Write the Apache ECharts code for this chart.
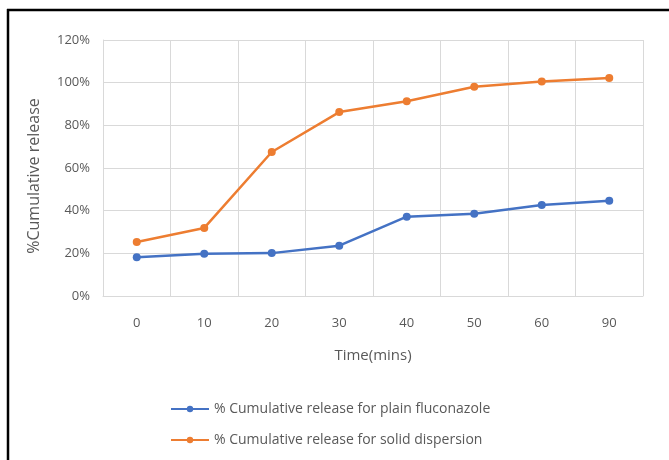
<!DOCTYPE html>
<html><head><meta charset="utf-8">
<script src="https://cdn.jsdelivr.net/npm/echarts@6/dist/echarts.min.js"></script>
<style>html,body{margin:0;padding:0;background:#fff}#c{width:669px;height:460px}</style>
</head><body><div id="c"></div>
<script>
var categories = ['0','10','20','30','40','50','60','90'];
var plainValues = [18.2, 19.8, 20.1, 23.6, 37.2, 38.6, 42.7, 44.7];
var dispersionValues = [25.3, 31.9, 67.5, 86.2, 91.3, 98.1, 100.6, 102.2];
var seriesNames = ['% Cumulative release for plain fluconazole', '% Cumulative release for solid dispersion'];
var yTicks = [0, 20, 40, 60, 80, 100, 120];

var FONT = '"Open Sans", sans-serif';
var chart = echarts.init(document.getElementById('c'), null, {renderer: 'canvas'});
chart.setOption({
  animation: false,
  backgroundColor: '#fff',
  grid: {left: 103, right: 26, top: 40, bottom: 164},
  legend: {
    orient: 'vertical', left: 165, top: 397, itemGap: 17,
    itemWidth: 38, itemHeight: 8,
    textStyle: {color: '#595959', fontSize: 14, fontFamily: FONT},
    data: seriesNames
  },
  xAxis: {
    type: 'category', data: categories, boundaryGap: true,
    name: 'Time(mins)', nameLocation: 'middle', nameGap: 52,
    nameTextStyle: {color: '#595959', fontSize: 15, fontFamily: FONT},
    axisLine: {lineStyle: {color: '#d9d9d9', width: 1}},
    axisTick: {show: false},
    axisLabel: {color: '#595959', fontSize: 13, fontFamily: FONT, margin: 21},
    splitLine: {show: true, lineStyle: {color: '#d9d9d9', width: 1}}
  },
  yAxis: {
    type: 'value', min: yTicks[0], max: yTicks[yTicks.length-1], interval: 20,
    name: '%Cumulative release', nameLocation: 'middle', nameGap: 61, nameRotate: 90,
    nameTextStyle: {color: '#595959', fontSize: 16, fontFamily: FONT, padding: [0, 16, 0, 0]},
    axisLine: {show: true, lineStyle: {color: '#d9d9d9'}},
    axisTick: {show: false},
    axisLabel: {color: '#595959', fontSize: 13, fontFamily: FONT, margin: 13, formatter: '{value}%'},
    splitLine: {lineStyle: {color: '#d9d9d9', width: 1}}
  },
  series: [
    {name: seriesNames[0], type: 'line', data: plainValues, symbol: 'circle', symbolSize: 8,
     itemStyle: {color: '#4472C4'}, lineStyle: {color: '#4472C4', width: 2.5}},
    {name: seriesNames[1], type: 'line', data: dispersionValues, symbol: 'circle', symbolSize: 8,
     itemStyle: {color: '#ED7D31'}, lineStyle: {color: '#ED7D31', width: 2.5}}
  ],
  graphic: [
    {type: 'line', shape: {x1: 7, y1: 10, x2: 669, y2: 10}, style: {stroke: '#000', lineWidth: 2.5}, silent: true},
    {type: 'line', shape: {x1: 8, y1: 9, x2: 8, y2: 460}, style: {stroke: '#000', lineWidth: 2.5}, silent: true}
  ]
});
</script></body></html>
